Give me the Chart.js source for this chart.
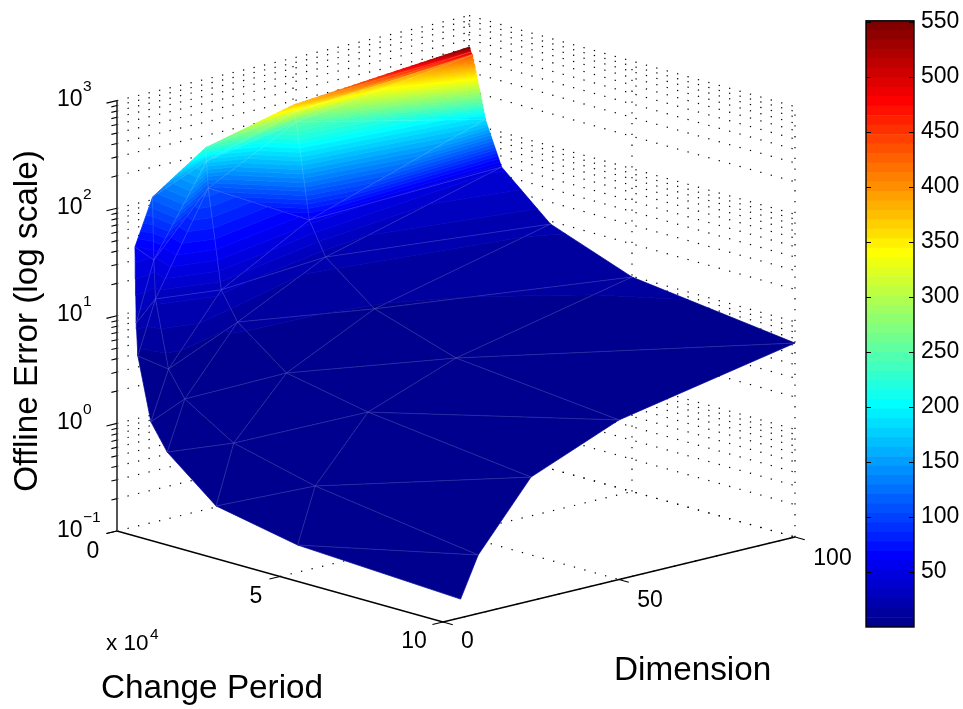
<!DOCTYPE html>
<html>
<head>
<meta charset="utf-8">
<title>Offline Error surface</title>
<script src="https://cdn.jsdelivr.net/npm/chart.js@4"></script>
<style>
  html, body { margin: 0; padding: 0; background: #fff; }
  #surfaceChart { position: absolute; left: 0; top: 0; }
  #barChart { position: absolute; left: 850px; top: 0; }
</style>
</head>
<body>
<canvas id="surfaceChart" width="963" height="709"></canvas>
<canvas id="barChart" width="113" height="709"></canvas>
<script>
/* --------------------------------------------
   DATA
--------------------------------------------- */
const changePeriods = [100, 500, 1000, 5000, 10000, 25000, 50000, 100000];
const dimensions = [5, 10, 25, 50, 100];

// height on the log axis, one list per dimension
const errorDim5 = [39.9, 7.9, 3.94, 1.04, 0.6, 0.254, 0.179, 0.149];
const errorDim10 = [106, 27.8, 12.2, 2.94, 1.71, 0.89, 0.578, 0.35];
const errorDim25 = [231, 176, 99.7, 12.2, 6.75, 3.04, 2.14, 1.41];
const errorDim50 = [367, 318, 260, 34.5, 17.2, 7.6, 4.32, 3.04];
const errorDim100 = [512, 463, 439, 120, 47.6, 18.8, 9.85, 6.35];

// colour value at the same vertices, read against the colour bar
const shadeDim5 = [60, 20, 6, 1, 0.6, 0.25, 0.18, 0.15];
const shadeDim10 = [115, 50, 28, 3, 1.7, 0.9, 0.6, 0.35];
const shadeDim25 = [231, 176, 110, 28, 10, 3, 2.1, 1.4];
const shadeDim50 = [370, 318, 250, 55, 20, 8, 4.3, 3];
const shadeDim100 = [551, 500, 430, 184, 45, 19, 10, 6.4];

const periodTicks = [0, 50000, 100000];
const dimTicks = [0, 50, 100];
const errorDecades = [-1, 0, 1, 2, 3];
const barTicks = [50, 100, 150, 200, 250, 300, 350, 400, 450, 500, 550];

const errorRows = [errorDim5, errorDim10, errorDim25, errorDim50, errorDim100];
const shadeRows = [shadeDim5, shadeDim10, shadeDim25, shadeDim50, shadeDim100];

/* --------------------------------------------
   COLOUR MAP (64 steps, jet)
--------------------------------------------- */
const shadeMin = 0.15;
const shadeMax = 551;
const STEPS = 64;

function clamp01(v) {
  return Math.max(0, Math.min(1, v));
}

function jetColor(i) {
  const v = (i + 1) / STEPS;
  const r = clamp01(Math.min(4 * v - 1.5, -4 * v + 4.5));
  const g = clamp01(Math.min(4 * v - 0.5, -4 * v + 3.5));
  const b = clamp01(Math.min(4 * v + 0.5, -4 * v + 2.5));
  return `rgb(${Math.round(r * 255)},${Math.round(g * 255)},${Math.round(b * 255)})`;
}

function stepEdge(i) {
  return shadeMin + (i / STEPS) * (shadeMax - shadeMin);
}

/* --------------------------------------------
   VIEW (fixed 3D view onto the page plane)
--------------------------------------------- */
function project(period, dim, logError) {
  const p = period / 10000;
  return {
    x: 117 + 32.6 * p + 3.52 * dim,
    y: 531 + 9.1 * p - 0.85 * dim - 107.6 * (logError + 1),
  };
}

function vertex(i, j) {
  const pos = project(changePeriods[j], dimensions[i], Math.log10(errorRows[i][j]));
  return { x: pos.x, y: pos.y, c: shadeRows[i][j] };
}

/* --------------------------------------------
   SURFACE DATASETS
--------------------------------------------- */
function clipAbove(poly, level, keepAbove) {
  const out = [];
  for (let n = 0; n < poly.length; n++) {
    const a = poly[n];
    const b = poly[(n + 1) % poly.length];
    const aIn = keepAbove ? a.c >= level : a.c <= level;
    const bIn = keepAbove ? b.c >= level : b.c <= level;
    if (aIn) out.push(a);
    if (aIn !== bIn) {
      const t = (level - a.c) / (b.c - a.c);
      out.push({ x: a.x + t * (b.x - a.x), y: a.y + t * (b.y - a.y), c: level });
    }
  }
  return out;
}

function triangleBands(tri) {
  const sets = [];
  for (let k = 0; k < STEPS; k++) {
    let poly = clipAbove(tri, stepEdge(k), true);
    if (poly.length) poly = clipAbove(poly, stepEdge(k + 1), false);
    if (poly.length < 3) continue;
    const color = jetColor(k);
    sets.push({
      data: poly.concat([poly[0]]).map((pt) => ({ x: pt.x, y: pt.y })),
      showLine: true,
      fill: "shape",
      backgroundColor: color,
      borderColor: color,
      borderWidth: 0.7,
      pointRadius: 0,
    });
  }
  return sets;
}

function surfaceSets() {
  let sets = [];
  // back to front: small period first, large dimension first
  for (let j = 0; j < changePeriods.length - 1; j++) {
    for (let i = dimensions.length - 2; i >= 0; i--) {
      const a = vertex(i, j);
      const b = vertex(i + 1, j);
      const c = vertex(i + 1, j + 1);
      const d = vertex(i, j + 1);
      sets = sets.concat(triangleBands([a, b, c]), triangleBands([a, c, d]));
    }
  }
  return sets;
}

function lineSet(points, color, width, dash) {
  return {
    data: points,
    showLine: true,
    fill: false,
    borderColor: color,
    borderWidth: width,
    borderDash: dash || [],
    pointRadius: 0,
  };
}

function meshSets() {
  const sets = [];
  const seam = "rgba(255,255,255,0.24)";
  for (let i = 0; i < dimensions.length; i++) {
    for (let j = 0; j < changePeriods.length; j++) {
      const a = vertex(i, j);
      if (j > 0 && j < changePeriods.length - 1 && i < dimensions.length - 1) {
        sets.push(lineSet([a, vertex(i + 1, j)], seam, 0.6));
      }
      if (i > 0 && i < dimensions.length - 1 && j < changePeriods.length - 1) {
        sets.push(lineSet([a, vertex(i, j + 1)], seam, 0.6));
      }
      if (i < dimensions.length - 1 && j < changePeriods.length - 1) {
        sets.push(lineSet([a, vertex(i + 1, j + 1)], seam, 0.6));
      }
    }
  }
  return sets;
}

/* --------------------------------------------
   AXES AND DOTTED GRID
--------------------------------------------- */
function errorGridLevels() {
  const levels = [];
  errorDecades.forEach((dec, n) => {
    levels.push(dec);
    if (n < errorDecades.length - 1) {
      for (let m = 2; m <= 9; m++) levels.push(dec + Math.log10(m));
    }
  });
  return levels;
}

function gridSets() {
  const sets = [];
  const dots = "#000";
  const dash = [1.3, 9.5];
  const pEnd = periodTicks[periodTicks.length - 1];
  const dEnd = dimTicks[dimTicks.length - 1];
  const zLow = errorDecades[0];
  const zTop = errorDecades[errorDecades.length - 1];

  errorGridLevels().forEach((z) => {
    sets.push(lineSet([project(0, 0, z), project(0, dEnd, z)], dots, 1.2, dash));
    sets.push(lineSet([project(0, dEnd, z), project(pEnd, dEnd, z)], dots, 1.2, dash));
  });
  dimTicks.slice(1).forEach((d) => {
    sets.push(lineSet([project(0, d, zLow), project(0, d, zTop)], dots, 1.2, dash));
    sets.push(lineSet([project(0, d, zLow), project(pEnd, d, zLow)], dots, 1.2, dash));
  });
  periodTicks.slice(1).forEach((p) => {
    sets.push(lineSet([project(p, dEnd, zLow), project(p, dEnd, zTop)], dots, 1.2, dash));
    sets.push(lineSet([project(p, 0, zLow), project(p, dEnd, zLow)], dots, 1.2, dash));
  });
  return sets;
}

function axisSets() {
  const sets = [];
  const pEnd = periodTicks[periodTicks.length - 1];
  const dEnd = dimTicks[dimTicks.length - 1];
  const zLow = errorDecades[0];
  const zTop = errorDecades[errorDecades.length - 1];

  sets.push(lineSet([project(0, 0, zLow), project(pEnd, 0, zLow)], "#000", 1.3));
  sets.push(lineSet([project(pEnd, 0, zLow), project(pEnd, dEnd, zLow)], "#000", 1.3));
  sets.push(lineSet([project(0, 0, zLow), project(0, 0, zTop)], "#555", 2));

  periodTicks.forEach((p) => {
    sets.push(lineSet([project(p, 0, zLow), project(p, -3, zLow)], "#000", 1.1));
  });
  dimTicks.forEach((d) => {
    sets.push(lineSet([project(pEnd, d, zLow), project(pEnd + 3000, d, zLow)], "#000", 1.1));
  });
  errorGridLevels().forEach((z) => {
    const major = Number.isInteger(z);
    sets.push(lineSet([project(0, 0, z), project(0, major ? -3 : -1.6, z)], "#000", 1.1));
  });
  return sets;
}

/* --------------------------------------------
   TEXT
--------------------------------------------- */
const FONT = '"Liberation Sans", Arial, sans-serif';

function putText(ctx, text, x, y, size, align, angle) {
  ctx.save();
  ctx.translate(x, y);
  if (angle) ctx.rotate(angle);
  ctx.font = `${size}px ${FONT}`;
  ctx.fillStyle = "#000";
  ctx.textAlign = align || "left";
  ctx.textBaseline = "alphabetic";
  ctx.fillText(text, 0, 0);
  ctx.restore();
}

const textPlugin = {
  id: "axisText",
  afterDraw(chart) {
    const ctx = chart.ctx;

    errorDecades.forEach((dec) => {
      const base = chart.scales.y.getPixelForValue(project(0, 0, dec).y) + 5.5;
      putText(ctx, "10", 57, base, 23);
      putText(ctx, String(dec).replace("-", "\u2212"), 83, base - 15, 15.5);
    });

    putText(ctx, String(periodTicks[0] / 10000), 93, 558, 23, "center");
    putText(ctx, String(periodTicks[1] / 10000), 256, 603, 23, "center");
    putText(ctx, String(periodTicks[2] / 10000), 414, 648, 23, "center");
    putText(ctx, String(dimTicks[0]), 467.5, 648, 23, "center");
    putText(ctx, String(dimTicks[1]), 650, 607, 23, "center");
    putText(ctx, String(dimTicks[2]), 832.5, 565, 23, "center");

    putText(ctx, "x 10", 106, 650, 22.5);
    putText(ctx, "4", 150, 639, 15.5);

    putText(ctx, "Change Period", 101, 698, 33.3);
    putText(ctx, "Dimension", 614, 680, 33.3);
    putText(ctx, "Offline Error (log scale)", 37, 321, 33.3, "center", -Math.PI / 2);
  },
};

/* --------------------------------------------
   SURFACE CHART
--------------------------------------------- */
// chart.js paints the first dataset last, so the list runs front to back
const allSets = gridSets().concat(axisSets(), surfaceSets(), meshSets()).reverse();

new Chart(document.getElementById("surfaceChart"), {
  type: "scatter",
  data: { datasets: allSets },
  options: {
    responsive: false,
    animation: false,
    events: [],
    layout: { padding: 0 },
    plugins: { legend: { display: false }, tooltip: { enabled: false } },
    scales: {
      x: { type: "linear", min: 0, max: 963, display: false },
      y: { type: "linear", min: 0, max: 709, reverse: true, display: false },
    },
  },
  plugins: [textPlugin],
});

/* --------------------------------------------
   COLOUR BAR CHART
--------------------------------------------- */
const barSets = [];
for (let k = 0; k < STEPS; k++) {
  barSets.push({
    data: [[stepEdge(k), stepEdge(k + 1)]],
    backgroundColor: jetColor(k),
    borderWidth: 0,
    barPercentage: 1,
    categoryPercentage: 1,
    grouped: false,
  });
}

const barFrame = {
  id: "barFrame",
  afterDraw(chart) {
    const { ctx, chartArea: area, scales } = chart;
    ctx.save();
    ctx.strokeStyle = "#000";
    ctx.lineWidth = 1;
    barTicks.forEach((t) => {
      const y = Math.round(scales.y.getPixelForValue(t)) + 0.5;
      ctx.beginPath();
      ctx.moveTo(area.left, y);
      ctx.lineTo(area.left + 5, y);
      ctx.moveTo(area.right - 5, y);
      ctx.lineTo(area.right, y);
      ctx.stroke();
    });
    ctx.lineWidth = 1.4;
    ctx.strokeRect(area.left, area.top, area.right - area.left, area.bottom - area.top);
    ctx.restore();
  },
};

new Chart(document.getElementById("barChart"), {
  type: "bar",
  data: { labels: ["Offline Error"], datasets: barSets },
  options: {
    responsive: false,
    animation: false,
    events: [],
    layout: { padding: { left: 16, top: 15, bottom: 82, right: 0 } },
    plugins: { legend: { display: false }, tooltip: { enabled: false } },
    scales: {
      x: { display: false },
      y: {
        position: "right",
        min: shadeMin,
        max: shadeMax,
        afterFit(scale) {
          scale.width = 49;
        },
        afterBuildTicks(scale) {
          scale.ticks = barTicks.map((v) => ({ value: v }));
        },
        grid: { display: false, drawTicks: false },
        border: { display: false },
        ticks: {
          color: "#000",
          padding: 7,
          font: { family: FONT, size: 23 },
          autoSkip: false,
        },
      },
    },
  },
  plugins: [barFrame],
});
</script>
</body>
</html>
